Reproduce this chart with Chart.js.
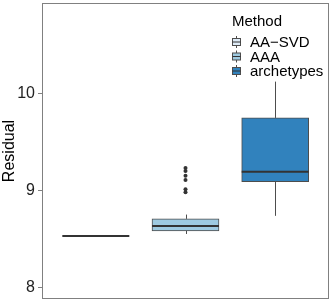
<!DOCTYPE html>
<html>
<head>
<meta charset="utf-8">
<script src="https://cdn.jsdelivr.net/npm/chart.js@4"></script>
<style>
  html, body { margin: 0; padding: 0; background: #fff; }
  #wrap { width: 332px; height: 305px; }
</style>
</head>
<body>
<div id="wrap"><canvas id="boxChart" width="332" height="305"></canvas></div>
<script>
// Box statistics
const methods = ["AA\u2212SVD", "AAA", "archetypes"];
const whiskerLow = [8.53, 8.55, 8.737];
const q1 = [8.53, 8.582, 9.088];
const median = [8.53, 8.633, 9.19];
const q3 = [8.53, 8.706, 9.746];
const whiskerHigh = [8.53, 8.75, 10.12];
const outliersAAA = [9.23, 9.2, 9.15, 9.105, 9.01, 8.98];
const yTicks = [8, 9, 10];

const fills = ["#deebf7", "#9ecae1", "#3182bd"];
const lineCol = "#333333";
const font = "'Liberation Sans', Arial, sans-serif";

// whiskers, medians, panel border and legend
const boxExtras = {
  id: "boxExtras",
  afterDatasetsDraw(chart) {
    const ctx = chart.ctx;
    const y = chart.scales.y;
    const meta = chart.getDatasetMeta(0);
    ctx.save();
    meta.data.forEach((bar, i) => {
      const cx = Math.round(bar.x) + 0.5;
      ctx.strokeStyle = "#4d4d4d";
      ctx.lineWidth = 1;
      ctx.beginPath();
      ctx.moveTo(cx, y.getPixelForValue(q3[i]));
      ctx.lineTo(cx, y.getPixelForValue(whiskerHigh[i]));
      ctx.moveTo(cx, y.getPixelForValue(q1[i]));
      ctx.lineTo(cx, y.getPixelForValue(whiskerLow[i]));
      ctx.stroke();
      const my = y.getPixelForValue(median[i]);
      ctx.strokeStyle = lineCol;
      ctx.lineWidth = 2;
      ctx.beginPath();
      ctx.moveTo(bar.x - bar.width / 2, my);
      ctx.lineTo(bar.x + bar.width / 2, my);
      ctx.stroke();
    });
    ctx.restore();
  },
  afterDraw(chart) {
    const ctx = chart.ctx;
    const a = chart.chartArea;
    ctx.save();
    ctx.strokeStyle = "#808080";
    ctx.lineWidth = 1;
    ctx.strokeRect(Math.round(a.left) + 0.5, Math.round(a.top) + 0.5,
      Math.round(a.right - a.left) - 1, Math.round(a.bottom - a.top) - 1);

    // legend
    const lx = a.right - 97;
    ctx.fillStyle = "#000";
    ctx.font = "15px " + font;
    ctx.textBaseline = "alphabetic";
    ctx.fillText("Method", lx, 26);
    methods.forEach((m, i) => {
      const cy = 42 + i * 14.5;
      ctx.strokeStyle = "#4d4d4d";
      ctx.lineWidth = 1;
      ctx.beginPath();
      ctx.moveTo(lx + 4.5, cy - 6);
      ctx.lineTo(lx + 4.5, cy + 6);
      ctx.stroke();
      ctx.fillStyle = fills[i];
      ctx.fillRect(lx + 0.5, cy - 3.5, 8, 7);
      ctx.strokeRect(lx + 0.5, cy - 3.5, 8, 7);
      ctx.strokeStyle = lineCol;
      ctx.beginPath();
      ctx.moveTo(lx + 0.5, cy);
      ctx.lineTo(lx + 8.5, cy);
      ctx.stroke();
      ctx.fillStyle = "#000";
      ctx.textBaseline = "middle";
      ctx.fillText(m, lx + 18, cy + 1);
    });
    ctx.restore();
  }
};

new Chart(document.getElementById("boxChart"), {
  type: "bar",
  data: {
    datasets: [{
      data: methods.map((m, i) => ({ x: i + 1, y: [q1[i], q3[i]] })),
      backgroundColor: fills,
      borderColor: "#4d4d4d",
      borderWidth: 1,
      borderSkipped: false,
      barThickness: 67,
      order: 2
    }, {
      type: "scatter",
      data: outliersAAA.map(v => ({ x: 2, y: v })),
      backgroundColor: lineCol,
      borderWidth: 0,
      pointRadius: 2,
      order: 1
    }]
  },
  options: {
    responsive: false,
    animation: false,
    events: [],
    layout: { autoPadding: false, padding: { top: 3, right: 3, bottom: 6, left: 0 } },
    plugins: { legend: { display: false }, tooltip: { enabled: false } },
    scales: {
      x: {
        type: "linear",
        min: 0.4,
        max: 3.6,
        offset: false,
        display: false
      },
      y: {
        min: 7.88,
        max: 10.93,
        afterFit(scale) {
          scale.width = 42;
          scale.paddingTop = 0;
          scale.paddingBottom = 0;
        },
        afterBuildTicks(scale) { scale.ticks = yTicks.map(v => ({ value: v })); },
        border: { display: false },
        grid: { drawOnChartArea: false, tickLength: 4, color: "#808080" },
        ticks: {
          padding: 3,
          color: "#222",
          font: { family: font, size: 16 }
        },
        title: {
          display: true,
          text: "Residual",
          color: "#000",
          padding: 0,
          font: { family: font, size: 16 }
        }
      }
    }
  },
  plugins: [boxExtras]
});
</script>
</body>
</html>
